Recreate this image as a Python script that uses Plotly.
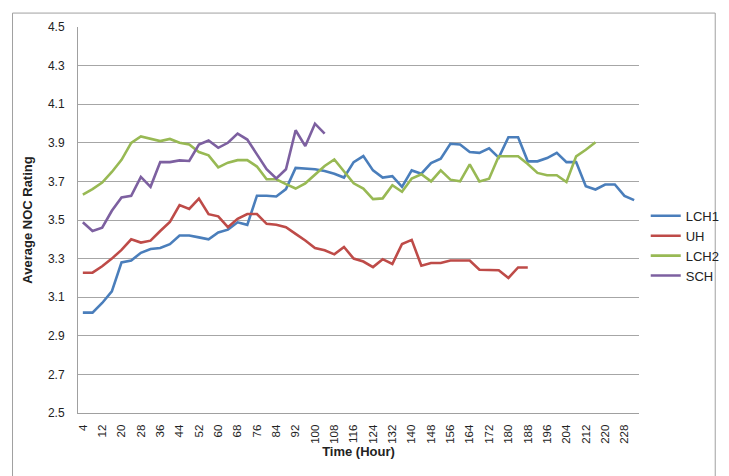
import plotly.graph_objects as go

hours = list(range(4, 233, 4))

lch1 = [3.02, 3.02, 3.07, 3.13, 3.28, 3.29, 3.33, 3.35, 3.355, 3.375,
        3.42, 3.42, 3.41, 3.40, 3.435, 3.45, 3.488, 3.475, 3.626, 3.626,
        3.622, 3.66, 3.77, 3.766, 3.763, 3.754, 3.74, 3.72, 3.80, 3.831,
        3.757, 3.72, 3.727, 3.672, 3.757, 3.74, 3.795, 3.818, 3.895, 3.891,
        3.852, 3.848, 3.871, 3.823, 3.929, 3.929, 3.804, 3.804, 3.821, 3.848,
        3.80, 3.80, 3.675, 3.658, 3.684, 3.684, 3.625, 3.603]

uh = [3.227, 3.227, 3.26, 3.30, 3.345, 3.40, 3.383, 3.393, 3.443, 3.49,
      3.577, 3.557, 3.611, 3.53, 3.519, 3.463, 3.506, 3.531, 3.531, 3.48,
      3.475, 3.463, 3.428, 3.394, 3.355, 3.343, 3.322, 3.36, 3.30, 3.285,
      3.256, 3.297, 3.272, 3.376, 3.397, 3.263, 3.277, 3.277, 3.29, 3.29,
      3.29, 3.242, 3.242, 3.24, 3.20, 3.254, 3.254]

lch2 = [3.632, 3.66, 3.694, 3.749, 3.812, 3.90, 3.933, 3.92, 3.909, 3.92,
        3.90, 3.891, 3.852, 3.835, 3.773, 3.797, 3.81, 3.81, 3.777, 3.711,
        3.711, 3.686, 3.663, 3.69, 3.737, 3.78, 3.814, 3.754, 3.69, 3.663,
        3.608, 3.612, 3.68, 3.646, 3.715, 3.737, 3.70, 3.757, 3.709, 3.70,
        3.788, 3.70, 3.714, 3.83, 3.83, 3.83, 3.79, 3.744, 3.732, 3.732,
        3.697, 3.83, 3.864, 3.903]

sch = [3.488, 3.443, 3.46, 3.548, 3.617, 3.625, 3.723, 3.672, 3.80, 3.80,
       3.809, 3.806, 3.891, 3.912, 3.874, 3.90, 3.948, 3.917, 3.84, 3.763,
       3.715, 3.763, 3.965, 3.883, 3.999, 3.948]

series = [("LCH1", lch1, "#4A7EBB"), ("UH", uh, "#BE4B48"),
          ("LCH2", lch2, "#98B954"), ("SCH", sch, "#7D60A0")]

tick_hours = hours[::2]
y_ticks = [2.5, 2.7, 2.9, 3.1, 3.3, 3.5, 3.7, 3.9, 4.1, 4.3, 4.5]

fig = go.Figure()
for name, vals, color in series:
    fig.add_trace(go.Scatter(x=hours[:len(vals)], y=vals, mode="lines", name=name,
                             line=dict(color=color, width=2.6)))

font = "Liberation Sans"
fig.update_layout(
    width=729, height=476,
    margin=dict(l=70, r=85, t=17, b=71),
    paper_bgcolor="white", plot_bgcolor="white",
    font=dict(family=font, size=11, color="#222222"),
    showlegend=True,
    legend=dict(x=1.012, y=0.433, xanchor="left", yanchor="middle",
                font=dict(size=13, color="#222222"), bgcolor="rgba(0,0,0,0)",
                itemwidth=30, tracegroupgap=2),
    xaxis=dict(range=[2, 234], tickmode="array", tickvals=tick_hours,
               ticktext=[str(h) for h in tick_hours], tickangle=-90,
               showgrid=False, zeroline=False, showline=True,
               linecolor="#a0a0a0", linewidth=1, ticks="",
               ticklabelstandoff=6,
               tickfont=dict(size=11.5, color="#222222"),
               title=dict(text="<b>Time (Hour)</b>", font=dict(size=13), standoff=3)),
    yaxis=dict(range=[2.5, 4.5], tickmode="array", tickvals=y_ticks,
               ticktext=[f"{v:.1f}" for v in y_ticks],
               showgrid=True, gridcolor="#a6a6a6", gridwidth=1,
               zeroline=False, showline=True, linecolor="#a0a0a0", linewidth=1,
               ticks="", ticklen=0, ticklabelstandoff=10,
               tickfont=dict(size=12, color="#222222"),
               title=dict(text="<b>Average NOC Rating</b>", font=dict(size=13), standoff=12)),
    shapes=[dict(type="rect", xref="paper", yref="paper",
                 x0=(3 - 70) / 574, x1=(722 - 70) / 574,
                 y0=(405 - 473) / 388, y1=(405 - 3) / 388,
                 line=dict(color="#a0a0a0", width=1), layer="below")],
)

fig.write_html("out.html")
